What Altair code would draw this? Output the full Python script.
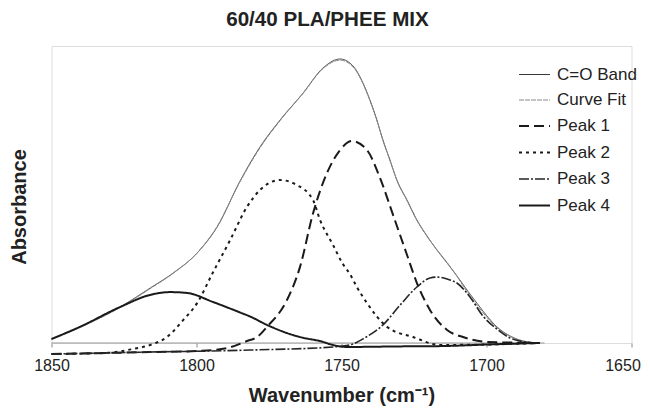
import altair as alt
import pandas as pd

series_names = ["C=O Band", "Curve Fit", "Peak 1", "Peak 2", "Peak 3", "Peak 4"]
series_colors = ["#3a3a3a", "#8a8a8a", "#1a1a1a", "#1a1a1a", "#262626", "#1a1a1a"]
series_dashes = [[1, 0], [5, 1], [10, 5], [3, 4], [10, 2, 2, 2], [1, 0]]
series_widths = [1.0, 1.0, 2.0, 2.0, 1.6, 2.0]

tick_values = [1850, 1800, 1750, 1700, 1650]
axis_line_span = [1850, 1680]

band_wn = [1850.0, 1840.2, 1826.4, 1816.0, 1808.1, 1799.8, 1792.9, 1785.0, 1778.1, 1771.2,
           1763.3, 1756.4, 1750.5, 1746.0, 1742.6, 1740.2, 1737.8, 1735.7, 1733.3, 1730.9,
           1727.4, 1724.0, 1720.5, 1717.1, 1713.6, 1710.2, 1706.7, 1703.3, 1699.8, 1696.4,
           1691.9, 1687.4, 1681.6]
band_abs = [0.014, 0.057, 0.127, 0.194, 0.247, 0.318, 0.410, 0.572, 0.693, 0.788,
            0.883, 0.972, 1.004, 0.979, 0.919, 0.859, 0.788, 0.717, 0.647, 0.576,
            0.505, 0.435, 0.378, 0.329, 0.283, 0.237, 0.187, 0.141, 0.095, 0.057,
            0.025, 0.007, 0.000]

fit_wn = [1850.0, 1840.2, 1826.4, 1816.0, 1808.1, 1799.8, 1792.9, 1785.0, 1778.1, 1771.2,
          1763.3, 1756.4, 1750.5, 1746.0, 1742.6, 1740.2, 1737.8, 1735.7, 1733.3, 1730.9,
          1727.4, 1724.0, 1720.5, 1717.1, 1713.6, 1710.2, 1706.7, 1703.3, 1699.8, 1696.4,
          1691.9, 1687.4, 1681.6]
fit_abs = [0.014, 0.055, 0.125, 0.192, 0.246, 0.318, 0.412, 0.570, 0.690, 0.786,
           0.882, 0.970, 1.000, 0.976, 0.917, 0.857, 0.787, 0.716, 0.646, 0.575,
           0.503, 0.433, 0.377, 0.330, 0.285, 0.236, 0.181, 0.134, 0.090, 0.054,
           0.024, 0.007, 0.000]

peak1_wn = [1850.0, 1816.0, 1798.8, 1789.5, 1782.6, 1779.1, 1775.7, 1768.8, 1764.3, 1759.8,
            1755.0, 1750.5, 1746.4, 1741.2, 1736.7, 1732.2, 1727.4, 1724.0, 1719.5, 1713.6,
            1708.1, 1699.8, 1681.6]
peak1_abs = [-0.039, -0.032, -0.028, -0.018, 0.007, 0.021, 0.057, 0.152, 0.269, 0.459,
             0.601, 0.682, 0.714, 0.682, 0.583, 0.452, 0.311, 0.212, 0.117, 0.046,
             0.021, 0.004, 0.000]

peak2_wn = [1850.0, 1830.9, 1821.9, 1816.0, 1810.2, 1804.6, 1799.8, 1794.3, 1788.4, 1782.6,
            1778.1, 1771.2, 1765.3, 1759.8, 1757.4, 1752.9, 1749.5, 1747.1, 1744.7, 1741.2,
            1734.3, 1725.3, 1716.0, 1698.8, 1681.6]
peak2_abs = [-0.039, -0.035, -0.021, -0.007, 0.021, 0.081, 0.141, 0.250, 0.364, 0.481,
             0.541, 0.576, 0.558, 0.505, 0.435, 0.346, 0.279, 0.244, 0.198, 0.141,
             0.057, 0.021, -0.007, -0.005, 0.000]

peak3_wn = [1850.0, 1816.0, 1781.6, 1752.9, 1747.1, 1742.0, 1735.7, 1729.8, 1724.0, 1719.5,
            1717.1, 1713.6, 1710.2, 1705.7, 1701.2, 1696.4, 1691.9, 1686.7, 1681.6]
peak3_abs = [-0.039, -0.032, -0.025, -0.014, -0.007, 0.018, 0.064, 0.134, 0.198, 0.230,
             0.233, 0.226, 0.212, 0.163, 0.095, 0.049, 0.018, 0.004, 0.000]

peak4_wn = [1850.0, 1840.2, 1826.4, 1816.0, 1809.1, 1803.3, 1794.3, 1785.0, 1781.6, 1775.7,
            1766.7, 1764.3, 1756.4, 1754.0, 1748.1, 1729.8, 1716.0, 1698.8, 1681.6]
peak4_abs = [0.014, 0.057, 0.127, 0.170, 0.180, 0.177, 0.145, 0.108, 0.094, 0.064,
             0.028, 0.021, 0.004, -0.004, -0.014, -0.012, -0.011, -0.005, 0.000]

all_series = [
    ("C=O Band", band_wn, band_abs),
    ("Curve Fit", fit_wn, fit_abs),
    ("Peak 1", peak1_wn, peak1_abs),
    ("Peak 2", peak2_wn, peak2_abs),
    ("Peak 3", peak3_wn, peak3_abs),
    ("Peak 4", peak4_wn, peak4_abs),
]
rows = []
for name, wn, ab in all_series:
    for w, a in zip(wn, ab):
        rows.append({"series": name, "wavenumber": w, "absorbance": a})
df = pd.DataFrame(rows)

FONT = "Liberation Sans"
x_scale = alt.Scale(domain=[1650, 1850], reverse=True, nice=False)
y_scale = alt.Scale(domain=[0, 1.05], nice=False, zero=False)

legend_kw = dict(title=None, orient="none", legendX=466.5, legendY=12.5,
                 symbolType="stroke", symbolSize=961, labelFont=FONT,
                 labelFontSize=17, labelColor="#222", rowPadding=1.5,
                 labelOffset=6, padding=0)

lines = alt.Chart(df).mark_line(interpolate="monotone").encode(
    x=alt.X("wavenumber:Q", scale=x_scale,
            axis=alt.Axis(values=tick_values, format="d", title="Wavenumber (cm⁻¹)",
                          grid=False, domain=False, tickColor="#888", tickSize=4,
                          labelFlush=False,
                          labelOffset=alt.ExprRef(expr="datum.value == 1650 ? -9 : 0"),
                          labelFont=FONT, labelFontSize=16, labelColor="#222",
                          labelPadding=10, titleFont=FONT, titleFontSize=20,
                          titleFontWeight="bold", titleColor="#222", titlePadding=12)),
    y=alt.Y("absorbance:Q", scale=y_scale,
            axis=alt.Axis(title="Absorbance", labels=False, ticks=False, domain=False,
                          grid=False, titleFont=FONT, titleFontSize=20,
                          titleFontWeight="bold", titleColor="#222",
                          titleX=-22, titleY=160.5)),
    color=alt.Color("series:N", scale=alt.Scale(domain=series_names, range=series_colors),
                    legend=alt.Legend(**legend_kw)),
    strokeDash=alt.StrokeDash("series:N", scale=alt.Scale(domain=series_names, range=series_dashes),
                              legend=alt.Legend(**legend_kw)),
    strokeWidth=alt.StrokeWidth("series:N",
                                scale=alt.Scale(type="ordinal", domain=series_names, range=series_widths),
                                legend=alt.Legend(**legend_kw)),
    order=alt.Order("wavenumber:Q", sort="descending"),
)

rule_df = pd.DataFrame({"start": [axis_line_span[0]], "end": [axis_line_span[1]], "level": [0.0]})
axis_line = alt.Chart(rule_df).mark_rule(color="#999", strokeWidth=1).encode(
    x=alt.X("start:Q", scale=x_scale),
    x2="end:Q",
    y=alt.Y("level:Q", scale=y_scale),
)

chart = alt.layer(axis_line, lines).properties(
    width=580, height=297,
    autosize=alt.AutoSizeParams(type="none"),
    padding={"left": 43.5, "top": 38, "right": 10.5, "bottom": 66},
    title=alt.TitleParams("60/40 PLA/PHEE MIX", font=FONT, fontSize=20.6, fontWeight="bold",
                          color="#222", anchor="middle", dx=-14, offset=15),
).configure_view(stroke=None).configure(background="white")

chart.save("out.html", embed_options={"renderer": "svg", "actions": False})
